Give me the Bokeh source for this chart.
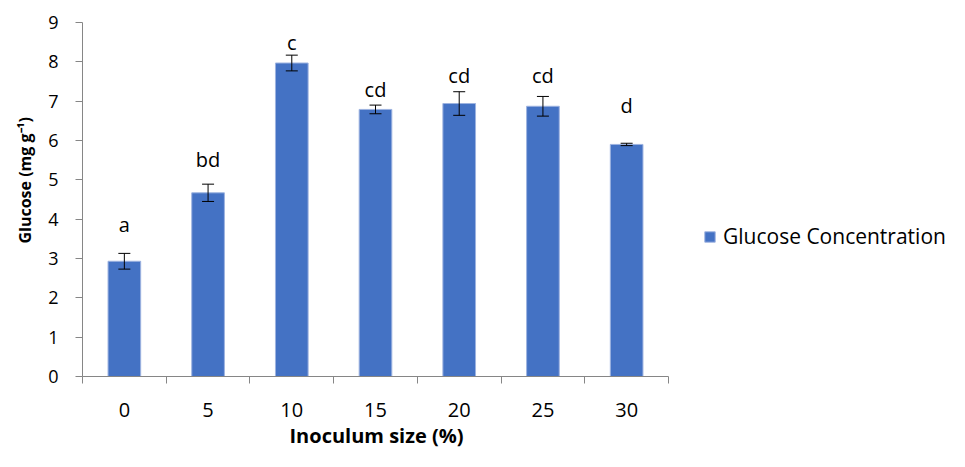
import math
from bokeh.plotting import figure
from bokeh.models import (Range1d, FixedTicker, ColumnDataSource, Whisker, TeeHead,
                          Legend, LegendItem, Title)
from bokeh.core.properties import value
from bokeh.embed import file_html
from bokeh.resources import INLINE

# ---- data ----
categories = ["0", "5", "10", "15", "20", "25", "30"]
glucose = [2.93, 4.67, 7.97, 6.79, 6.94, 6.87, 5.90]
glucose_err = [0.20, 0.22, 0.20, 0.11, 0.30, 0.25, 0.03]
letters = ["a", "bd", "c", "cd", "cd", "cd", "d"]
y_ticks = [0, 1, 2, 3, 4, 5, 6, 7, 8, 9]

# ---- styling / layout ----
FONT = "Open Sans"
BAR = "#4472C4"
AXIS = "#868686"
letter_px = [29, 25, 13, 16, 16, 21, 38]
W, H = 949, 451
LEFT, TOP, BOTTOM = 82, 22, 75
AXIS_PX = 586            # width of the category axis in pixels
n = len(categories)
px_per_cat = AXIS_PX / n
x_end = -0.5 + (W - LEFT) / px_per_cat   # frame extends right to hold the legend

idx = list(range(n))
upper = [g + e for g, e in zip(glucose, glucose_err)]
lower = [g - e for g, e in zip(glucose, glucose_err)]
src = ColumnDataSource(dict(x=idx, top=glucose, upper=upper, lower=lower,
                            letter=letters, yoff=[-o for o in letter_px]))

p = figure(width=W, height=H, output_backend="svg", toolbar_location=None,
           x_range=Range1d(-0.5, x_end), y_range=Range1d(0, 9),
           min_border_left=LEFT, min_border_right=0, min_border_top=TOP,
           min_border_bottom=BOTTOM)
p.outline_line_color = None
p.grid.grid_line_color = None

bars = p.vbar(x="x", top="top", width=0.39, source=src, fill_color=BAR,
              line_color="#9DB3E0", line_width=1)

wh = Whisker(base="x", upper="upper", lower="lower", source=src, level="overlay",
             line_color="black", line_width=1,
             upper_head=TeeHead(size=12, line_color="black", line_width=1),
             lower_head=TeeHead(size=12, line_color="black", line_width=1))
p.add_layout(wh)

p.text(x="x", y="upper", text="letter", source=src, y_offset="yoff",
       text_align="center", text_baseline="middle", text_font=value(FONT),
       text_font_size="20px", text_color="black")

xa = p.xaxis[0]
xa.bounds = (-0.5, n - 0.5)
xa.ticker = FixedTicker(ticks=idx, minor_ticks=[i - 0.5 for i in range(n + 1)])
xa.major_label_overrides = {i: c for i, c in enumerate(categories)}
xa.major_tick_line_color = None
xa.major_tick_out = 0
xa.major_tick_in = 0
xa.minor_tick_out = 7
xa.minor_tick_in = 0
xa.minor_tick_line_color = AXIS
xa.axis_line_color = AXIS
xa.major_label_standoff = 19
xa.major_label_text_font = FONT
xa.major_label_text_font_size = "20px"
xa.major_label_text_color = "black"

ya = p.yaxis[0]
ya.ticker = FixedTicker(ticks=y_ticks)
ya.minor_tick_line_color = None
ya.major_tick_out = 7
ya.major_tick_in = 0
ya.major_tick_line_color = AXIS
ya.axis_line_color = AXIS
ya.major_label_standoff = 17
ya.major_label_text_font = FONT
ya.major_label_text_font_size = "18px"
ya.major_label_text_color = "black"

p.add_layout(Title(text="Glucose (mg g\u207b\u00b9)", align="left", offset=133,
                   text_font=FONT, text_font_size="16px", text_font_style="bold",
                   text_color="black", standoff=20), "left")
p.add_layout(Title(text="Inoculum size (%)", align="left", offset=207,
                   text_font=FONT, text_font_size="20px", text_font_style="bold",
                   text_color="black", standoff=0), "below")

legend = Legend(items=[LegendItem(label="Glucose Concentration", renderers=[bars])],
                location=(621, 126), glyph_width=13, glyph_height=13, padding=0,
                margin=0, border_line_color=None, background_fill_alpha=0,
                label_standoff=7, label_text_font=FONT, label_text_font_size="21px",
                label_text_color="black")
p.add_layout(legend)

open("out.html", "w").write(file_html(p, INLINE))
